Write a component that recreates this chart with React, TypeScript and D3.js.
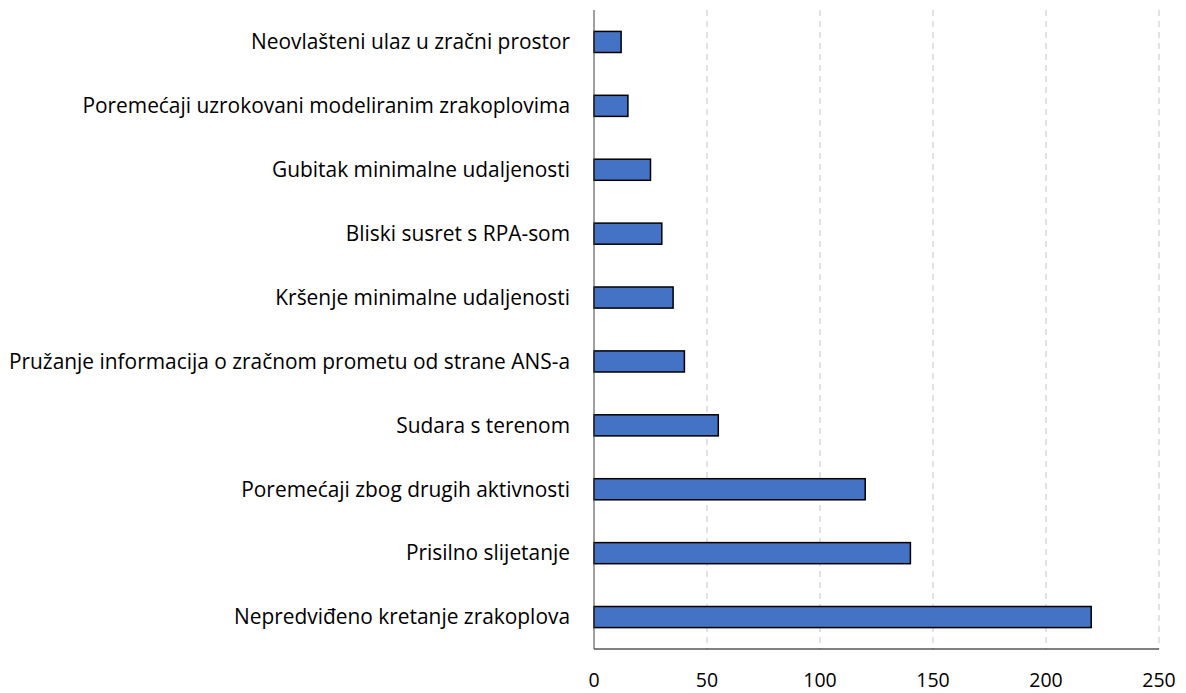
import { useEffect, useRef } from "react";
import * as d3 from "d3";

const categories = [
  "Neovlašteni ulaz u zračni prostor",
  "Poremećaji uzrokovani modeliranim zrakoplovima",
  "Gubitak minimalne udaljenosti",
  "Bliski susret s RPA-som",
  "Kršenje minimalne udaljenosti",
  "Pružanje informacija o zračnom prometu od strane ANS-a",
  "Sudara s terenom",
  "Poremećaji zbog drugih aktivnosti",
  "Prisilno slijetanje",
  "Nepredviđeno kretanje zrakoplova",
];
const values = [12, 15, 25, 30, 35, 40, 55, 120, 140, 220];
const xTicks = [0, 50, 100, 150, 200, 250];

const W = 1186;
const H = 693;
const FONT = "'Open Sans', Lato, sans-serif";

export default function App() {
  const svgRef = useRef<SVGSVGElement>(null);

  useEffect(() => {
    if (!svgRef.current) return;
    const svg = d3.select(svgRef.current);
    svg.selectAll("*").remove();

    const left = 594;
    const right = 1159;
    const top = 10;
    const bottom = 649;

    const x = d3.scaleLinear().domain([0, 250]).range([left, right]);
    const y = d3
      .scaleBand<string>()
      .domain(categories)
      .range([top, bottom])
      .paddingInner(0.67)
      .paddingOuter(0.335);

    // grille pointillée
    svg
      .append("g")
      .selectAll("line")
      .data(xTicks.filter((t) => t > 0))
      .enter()
      .append("line")
      .attr("x1", (d) => x(d))
      .attr("x2", (d) => x(d))
      .attr("y1", top)
      .attr("y2", bottom)
      .attr("stroke", "#d9d9d9")
      .attr("stroke-width", 1.5)
      .attr("stroke-dasharray", "6,5");

    // barres
    svg
      .append("g")
      .selectAll("rect")
      .data(categories)
      .enter()
      .append("rect")
      .attr("x", x(0))
      .attr("y", (d) => y(d)!)
      .attr("width", (_d, i) => x(values[i]) - x(0))
      .attr("height", y.bandwidth())
      .attr("fill", "#4472c4")
      .attr("stroke", "#000")
      .attr("stroke-width", 1.5);

    // axes
    svg
      .append("line")
      .attr("x1", left)
      .attr("x2", right)
      .attr("y1", bottom)
      .attr("y2", bottom)
      .attr("stroke", "#000")
      .attr("stroke-width", 1);
    svg
      .append("line")
      .attr("x1", left)
      .attr("x2", left)
      .attr("y1", top)
      .attr("y2", bottom)
      .attr("stroke", "#404040")
      .attr("stroke-width", 1);

    // libellés des catégories
    svg
      .append("g")
      .selectAll("text")
      .data(categories)
      .enter()
      .append("text")
      .attr("x", 570)
      .attr("y", (d) => y(d)! + y.bandwidth() / 2)
      .attr("dy", "0.35em")
      .attr("text-anchor", "end")
      .style("font-family", FONT)
      .style("font-size", "20.9px")
      .style("fill", "#000")
      .text((d) => d);

    // libellés des graduations
    svg
      .append("g")
      .selectAll("text")
      .data(xTicks)
      .enter()
      .append("text")
      .attr("x", (d) => x(d))
      .attr("y", 680)
      .attr("dy", "0.35em")
      .attr("text-anchor", "middle")
      .style("font-family", FONT)
      .style("font-size", "19.5px")
      .style("fill", "#000")
      .text((d) => d);
  }, []);

  return (
    <svg
      ref={svgRef}
      width={W}
      height={H}
      style={{ position: "absolute", left: 0, top: 0, background: "#fff" }}
    />
  );
}
